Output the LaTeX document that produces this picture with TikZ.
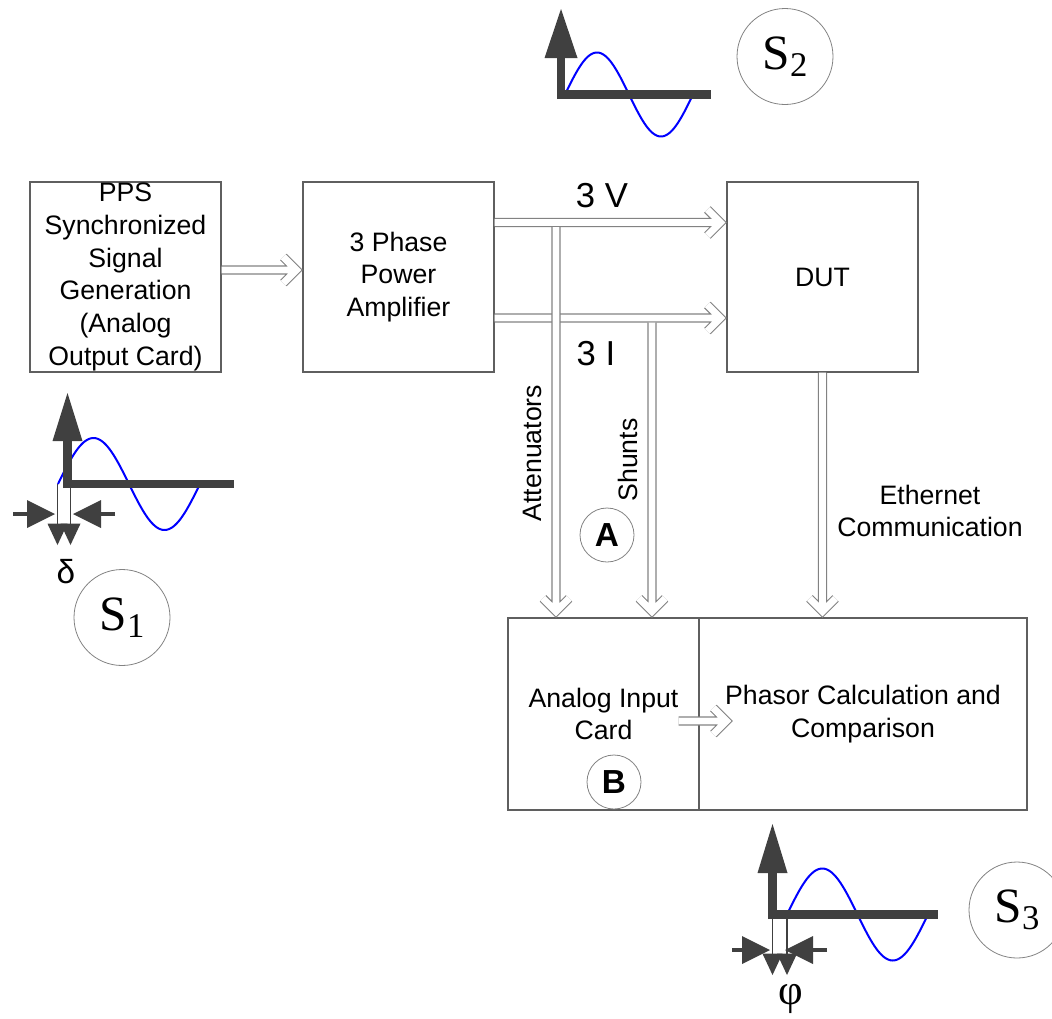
\documentclass[tikz,border=0pt]{standalone}
\usepackage{fontspec}
\setmainfont{Liberation Sans}
\newfontfamily\timesfont{Liberation Serif}
\usetikzlibrary{arrows.meta,positioning,calc}
\definecolor{boxgray}{RGB}{95,95,95}
\definecolor{pipegray}{RGB}{130,130,130}
\definecolor{ringgray}{RGB}{130,130,130}
\definecolor{axisgray}{RGB}{64,64,64}
\definecolor{waveblue}{RGB}{0,0,255}
\newcommand{\boxfont}{\fontsize{20}{24.5}\selectfont}
\newcommand{\sname}[1]{{\timesfont\fontsize{37}{37}\selectfont S\raisebox{-5pt}{\fontsize{26}{26}\selectfont #1}}}

\tikzset{
  blk/.style={draw=boxgray, line width=0.9pt, inner sep=0pt, align=center, font=\boxfont},
  pipe/.style={draw=pipegray, line width=0.8pt, double=white, double distance=5.2pt, line join=miter},
  lbl/.style={inner sep=0pt, align=center, font=\boxfont},
  ring/.style={circle, draw=ringgray, line width=0.6pt, inner sep=0pt},
  tag/.style={ring, minimum size=40.5pt, font=\bfseries\fontsize{25}{25}\selectfont},
  wave/.style={draw=waveblue, line width=1.5pt},
  axisbar/.style={draw=axisgray, line width=6.5pt},
  marker/.style={draw=axisgray, line width=1.1pt, -{Triangle[width=15pt,length=16pt,line width=0pt]}},
  pinch/.style={draw=axisgray, line width=3pt, -{Triangle[width=21pt,length=21pt,line width=0pt]}}
}

\begin{document}
\begin{tikzpicture}[x=0.75pt, y=-0.75pt]
    \useasboundingbox (0,0) rectangle (1052,1018);

    % blocks
    \node[blk, minimum width=143.25pt, minimum height=142.5pt] (pps) at (125.5,277) {PPS\\Synchronized\\Signal\\Generation\\(Analog\\Output Card)};
    \node[blk, minimum width=143.25pt, minimum height=142.5pt] (amp) at (398.5,277) {3 Phase\\Power\\Amplifier};
    \node[blk, minimum width=143.25pt, minimum height=142.5pt] (dut) at (822.5,277) {DUT};
    \node[blk, minimum width=143.25pt, minimum height=144pt] (aic) at (603.5,714) {Analog Input\\Card};
    \node[blk, minimum width=246pt, minimum height=144pt] (pcc) at (863,714) {Phasor Calculation and\\Comparison};

    \coordinate (vtap) at (556,227);
    \coordinate (itap) at (652,322.5);

    % hollow connectors
    \draw[pipe] (pps.east |- 0,270) -- ([xshift=-4.5pt]amp.west |- 0,270) +(-13,-13) -- +(0,0) -- +(-13,13);
    \draw[pipe] (amp.east |- 0,222.5) -- ([xshift=-4.5pt]dut.west |- 0,222.5) +(-13,-13) -- +(0,0) -- +(-13,13);
    \draw[pipe] (amp.east |- 0,318) -- ([xshift=-4.5pt]dut.west |- 0,318) +(-13,-13) -- +(0,0) -- +(-13,13);
    \draw[pipe] (vtap) -- ([yshift=4.5pt]aic.north -| vtap) +(-13,-13) -- +(0,0) -- +(13,-13);
    \draw[pipe] (itap) -- ([yshift=4.5pt]aic.north -| itap) +(-13,-13) -- +(0,0) -- +(13,-13);
    \draw[pipe] (dut.south) -- ([yshift=4.5pt]pcc.north -| dut.south) +(-13,-13) -- +(0,0) -- +(13,-13);
    \draw[pipe] ([xshift=-15.75pt]aic.east |- 0,721) -- ([xshift=21pt]pcc.west |- 0,721) +(-13,-13) -- +(0,0) -- +(-13,13);

    % labels
    \node[lbl, font=\fontsize{26}{30}\selectfont] (vlab) at (602,196) {3 V};
    \node[lbl, font=\fontsize{26}{30}\selectfont] (ilab) at (596,354) {3 I};
    \node[lbl, rotate=90] (att) at (532,453) {Attenuators};
    \node[lbl, rotate=90] (shu) at (628,460) {Shunts};
    \node[lbl] (eth) at (930,511) {Ethernet\\Communication};
    \node[tag] (pa) at (607,535) {A};
    \node[tag] (pb) at (614,782) {B};

    % S2 signal
    \draw[wave] plot[domain=0:1, samples=80] ({565+128*\x},{94.5-42*sin(360*\x)});
    \draw[axisbar] (557,94.5) -- (711,94.5);
    \draw[axisbar, -{Triangle[width=24.75pt,length=36.75pt,line width=0pt]}] (561,99) -- (561,9);
    \node[ring, minimum size=72pt] (s2) at (785,56.5) {\sname{2}};

    % S1 signal
    \draw[wave] plot[domain=0:1, samples=80] ({58+142*\x},{484-46*sin(360*\x)});
    \draw[axisbar] (63,484) -- (234,484);
    \draw[axisbar, -{Triangle[width=22.5pt,length=36pt,line width=0pt]}] (67.5,488) -- (67.5,393);
    \draw[marker] (57.5,484) -- (57.5,545);
    \draw[marker] (70.5,488) -- (70.5,545);
    \draw[pinch] (13,514) -- (55,514);
    \draw[pinch] (115,514) -- (73,514);
    \node[lbl, font=\fontsize{25}{25}\selectfont] (dl) at (66,572) {δ};
    \node[ring, minimum size=72pt] (s1) at (122,617.5) {\sname{1}};

    % S3 signal
    \draw[wave] plot[domain=0:1, samples=80] ({787+141*\x},{914.5-46*sin(360*\x)});
    \draw[axisbar] (768,914.5) -- (938,914.5);
    \draw[axisbar, -{Triangle[width=22.5pt,length=36.75pt,line width=0pt]}] (772.5,919) -- (772.5,824);
    \draw[marker] (772.5,919) -- (772.5,975);
    \draw[marker] (787,919) -- (787,975);
    \draw[pinch] (732,950) -- (770,950);
    \draw[pinch] (827,950) -- (785,950);
    \node[lbl, font=\timesfont\fontsize{32}{32}\selectfont] (ph) at (791,999) {φ};
    \node[ring, minimum size=72pt] (s3) at (1017,910) {\sname{3}};
\end{tikzpicture}
\end{document}
